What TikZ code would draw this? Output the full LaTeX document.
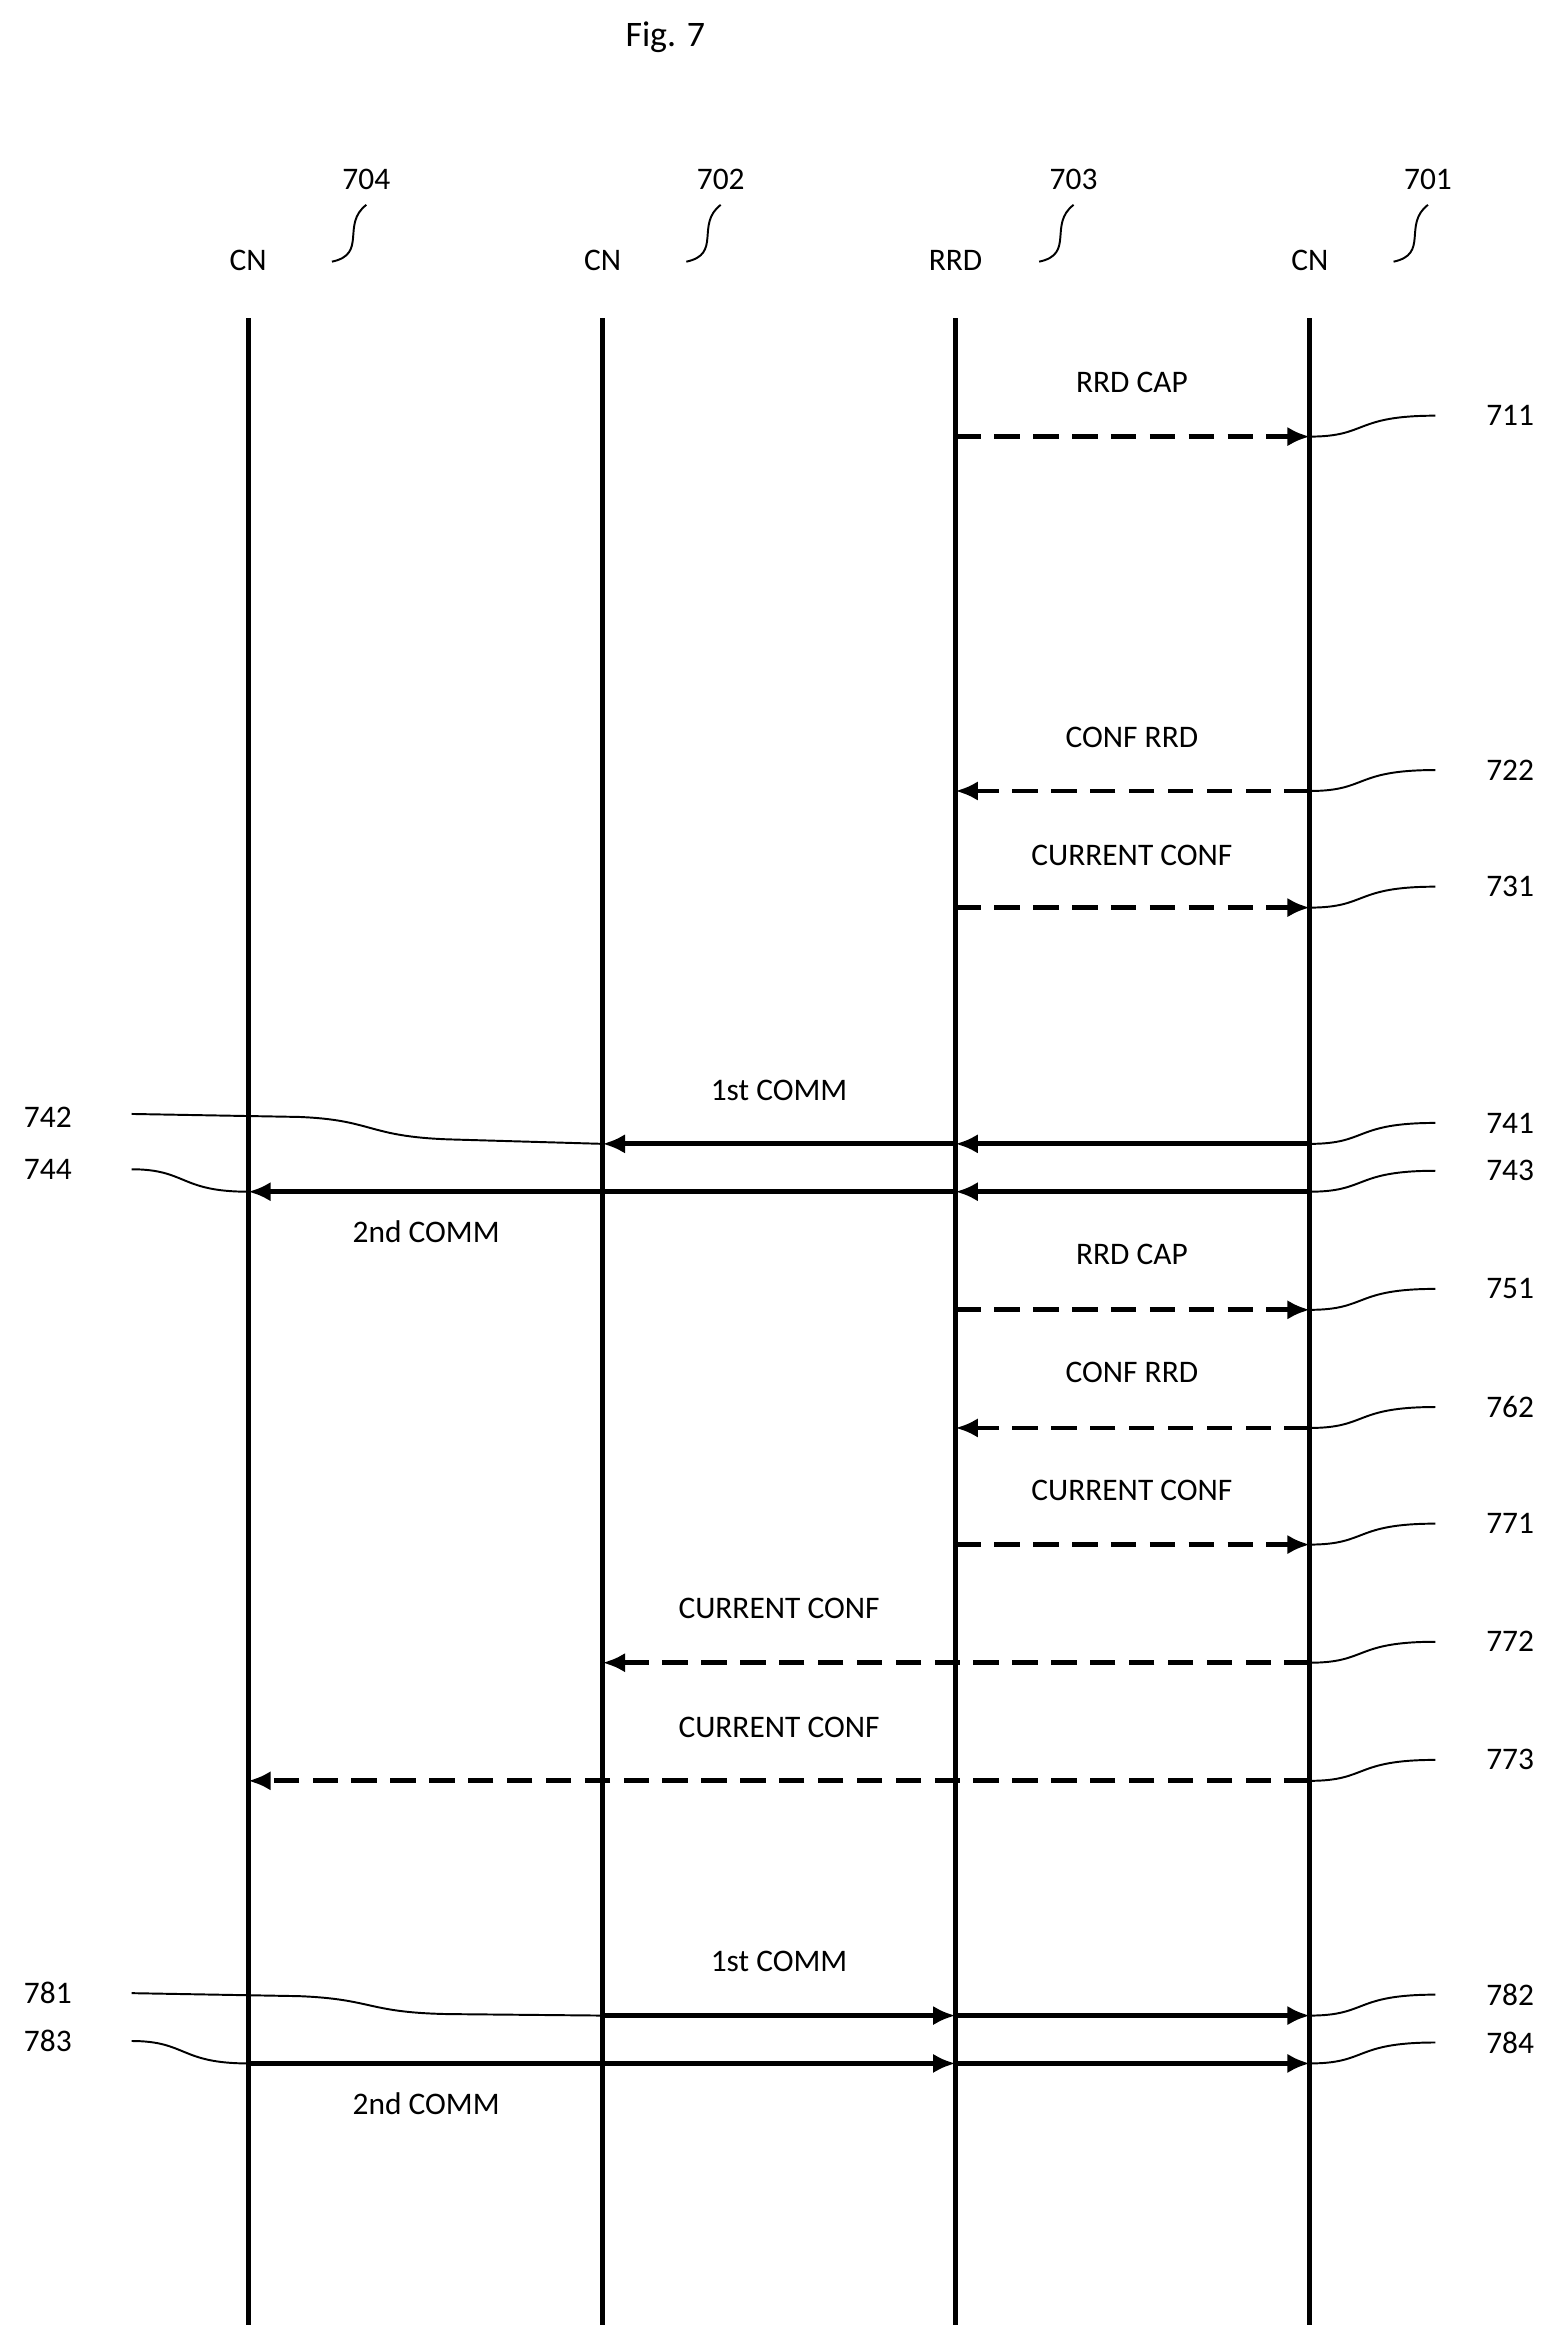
\documentclass[tikz,border=0pt]{standalone}
\usepackage{fontspec}
\setmainfont{Carlito}
\usetikzlibrary{arrows.meta}
\tikzset{
  life/.style={line width=3.2pt},
  msg/.style={line width=3.2pt,-{Latex[length=15pt,width=13pt]}},
  dmsg/.style={msg,dash pattern=on 17pt off 9pt},
  lead/.style={line width=1.3pt},
  lbl/.style={font=\fontsize{21}{24}\selectfont,inner sep=0pt}
}
\begin{document}
\begin{tikzpicture}[x=1pt,y=-1pt]
\useasboundingbox (0,0) rectangle (1045,1571);

\node[lbl,font=\fontsize{24}{28}\selectfont] (fig) at (445,25) {Fig. 7};

% lifelines
\foreach \n/\x/\t/\r in {a/166/CN/704,b/403/CN/702,c/639/RRD/703,d/876/CN/701}{
  \node[lbl] (h\n) at (\x,174) {\t};
  \node[lbl] (r\n) at (\x+79,120) {\r};
  \coordinate (t\n) at (\x,213);
  \coordinate (e\n) at (\x,1555);
  \draw[life] (t\n) -- (e\n);
  \draw[lead] (\x+56,175) .. controls (\x+80,170) and (\x+62,150) .. (\x+79,137);
}

% message rows
\foreach \k/\y in {711/292,722/529,731/607,741/765,743/797,751/876,762/955,771/1033,772/1112,773/1191,782/1348,784/1380}{
  \coordinate (y\k) at (0,\y);
  \node[lbl] (n\k) at (1010,\y-14) {\k};
  \draw[lead] (td |- y\k) .. controls (915,\y) and (905,\y-14) .. (960,\y-14);
}

% dashed messages
\draw[dmsg] (tc |- y711) -- (td |- y711);
\draw[dmsg] (td |- y722) -- (tc |- y722);
\draw[dmsg] (tc |- y731) -- (td |- y731);
\draw[dmsg] (tc |- y751) -- (td |- y751);
\draw[dmsg] (td |- y762) -- (tc |- y762);
\draw[dmsg] (tc |- y771) -- (td |- y771);
\draw[dmsg] (td |- y772) -- (tb |- y772);
\draw[dmsg] (td |- y773) -- (ta |- y773);

% solid messages
\draw[msg] (td |- y741) -- (tc |- y741);
\draw[msg] (tc |- y741) -- (tb |- y741);
\draw[msg] (td |- y743) -- (tc |- y743);
\draw[msg] (tc |- y743) -- (ta |- y743);
\draw[msg] (tb |- y782) -- (tc |- y782);
\draw[msg] (tc |- y782) -- (td |- y782);
\draw[msg] (ta |- y784) -- (tc |- y784);
\draw[msg] (tc |- y784) -- (td |- y784);

% message labels
\node[lbl] (l711) at (757,256) {RRD CAP};
\node[lbl] (l722) at (757,493) {CONF RRD};
\node[lbl] (l731) at (757,572) {CURRENT CONF};
\node[lbl] (l741) at (521,729) {1st COMM};
\node[lbl] (l743) at (285,824) {2nd COMM};
\node[lbl] (l751) at (757,839) {RRD CAP};
\node[lbl] (l762) at (757,918) {CONF RRD};
\node[lbl] (l771) at (757,997) {CURRENT CONF};
\node[lbl] (l772) at (521,1076) {CURRENT CONF};
\node[lbl] (l773) at (521,1155) {CURRENT CONF};
\node[lbl] (l782) at (521,1312) {1st COMM};
\node[lbl] (l784) at (285,1407) {2nd COMM};

% left references
\node[lbl] (n742) at (32,747) {742};
\node[lbl] (n744) at (32,782) {744};
\node[lbl] (n781) at (32,1333) {781};
\node[lbl] (n783) at (32,1365) {783};
\draw[lead] (88,745) -- (200,747) .. controls (250,749) and (245,760) .. (300,762) -- (tb |- y741);
\draw[lead] (88,782) .. controls (125,782) and (120,797) .. (ta |- y743);
\draw[lead] (88,1333) -- (200,1335) .. controls (250,1337) and (245,1346) .. (300,1347) -- (tb |- y782);
\draw[lead] (88,1365) .. controls (125,1365) and (120,1380) .. (ta |- y784);
\end{tikzpicture}
\end{document}
